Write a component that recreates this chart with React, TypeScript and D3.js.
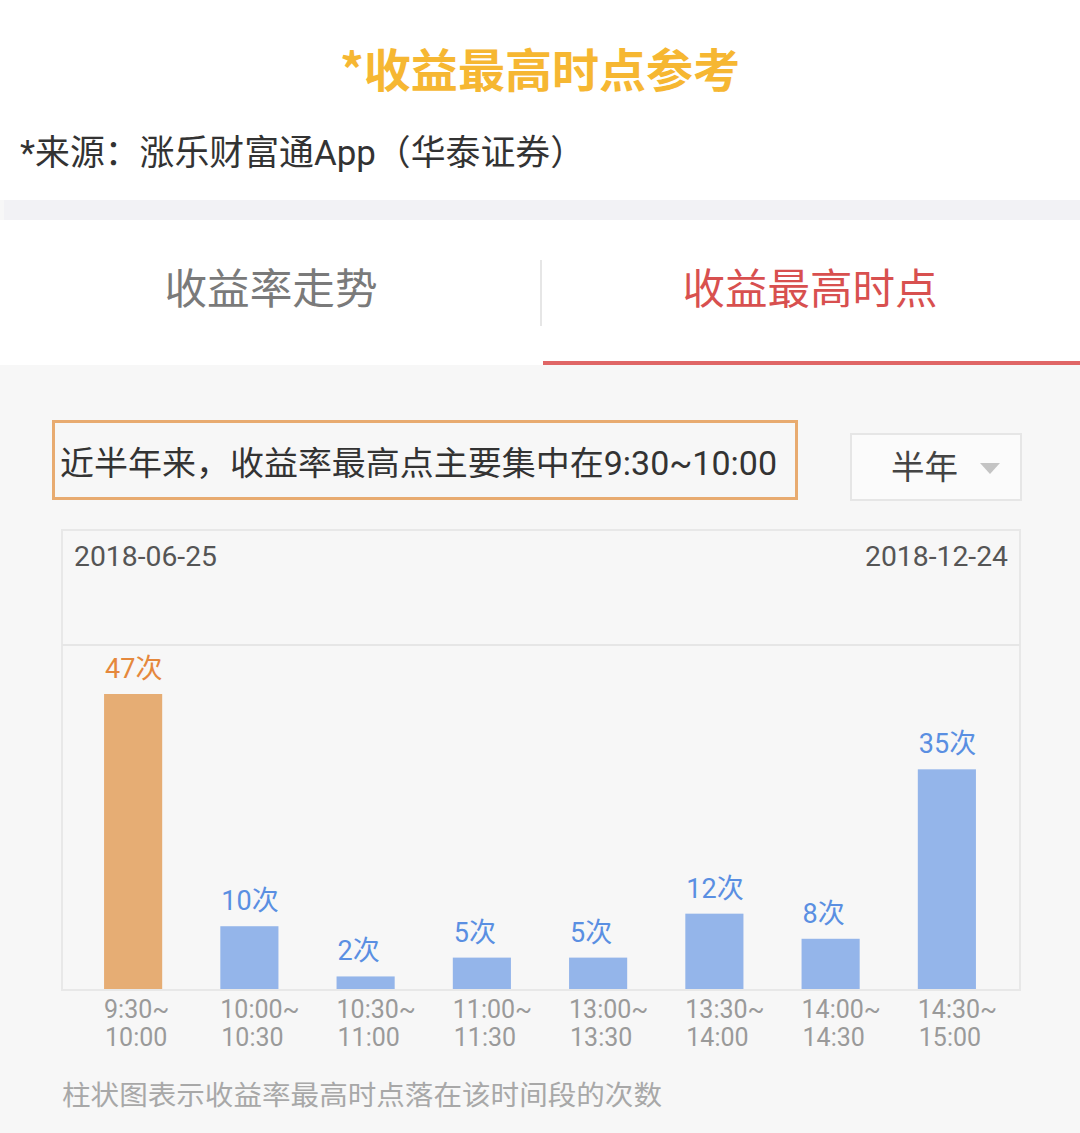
import * as d3 from 'd3';
import { useEffect } from 'react';

// 时间段（两行标签）与次数
const slotStarts = ['9:30~', '10:00~', '10:30~', '11:00~', '13:00~', '13:30~', '14:00~', '14:30~'];
const slotEnds = ['10:00', '10:30', '11:00', '11:30', '13:30', '14:00', '14:30', '15:00'];
const counts = [47, 10, 2, 5, 5, 12, 8, 35];
const highlightSlot = '9:30~';

const titleText = '*收益最高时点参考';
const sourceText = '*来源：涨乐财富通App（华泰证券）';
const tabs = ['收益率走势', '收益最高时点'];
const summaryText = '近半年来，收益率最高点主要集中在9:30~10:00';
const periodText = '半年';
const startDate = '2018-06-25';
const endDate = '2018-12-24';
const footnote = '柱状图表示收益率最高时点落在该时间段的次数';

const FONT = "Roboto, 'Noto Sans CJK SC', sans-serif";
const CJK = "'Noto Sans CJK SC', sans-serif";

export default function App() {
    useEffect(() => {
        document.body.style.margin = '0';
    }, []);

    const width = 1080;
    const height = 1133;

    const x = d3.scaleBand<string>()
        .domain(slotStarts)
        .range([75, 1005])
        .paddingInner(0.5)
        .paddingOuter(0.25);

    const y = d3.scaleLinear()
        .domain([0, 47])
        .range([989, 694]);

    const bars = slotStarts.map((s, i) => ({ start: s, end: slotEnds[i], count: counts[i] }));

    return (
        <svg width={width} height={height} style={{ display: 'block' }} fontFamily={FONT}>
            <rect x={0} y={0} width={width} height={height} fill="#f7f7f7" />
            {/* 顶部白色区域 */}
            <rect x={0} y={0} width={width} height={200} fill="#ffffff" />
            <rect x={4} y={200} width={width - 4} height={20} fill="#f2f2f5" />
            <rect x={0} y={220} width={width} height={145} fill="#ffffff" />

            <text x={540} y={87} textAnchor="middle" fontFamily={CJK} fontSize={46} fontWeight="bold"
                fill="#f6b732" textLength={400} lengthAdjust="spacingAndGlyphs">{titleText}</text>
            <text x={20} y={165} fontSize={35} fill="#333333"
                textLength={565} lengthAdjust="spacingAndGlyphs">{sourceText}</text>

            {/* 选项卡 */}
            <text x={271} y={304} textAnchor="middle" fontFamily={CJK} fontSize={42} fill="#7a7a7a"
                textLength={213} lengthAdjust="spacingAndGlyphs">{tabs[0]}</text>
            <line x1={541} x2={541} y1={260} y2={326} stroke="#e6e6e6" strokeWidth={2} />
            <text x={810} y={304} textAnchor="middle" fontFamily={CJK} fontSize={42} fill="#d8504f"
                textLength={255} lengthAdjust="spacingAndGlyphs">{tabs[1]}</text>
            <rect x={543} y={361} width={width - 543} height={4} fill="#e06666" />

            {/* 摘要框 */}
            <rect x={53.5} y={421.5} width={743} height={77} fill="none" stroke="#e8ab70" strokeWidth={3} />
            <text x={60} y={475} fontSize={33} fill="#333333"
                textLength={717} lengthAdjust="spacingAndGlyphs">{summaryText}</text>

            {/* 下拉框 */}
            <rect x={851} y={434} width={170} height={66} fill="#fbfbfb" stroke="#e6e6e6" strokeWidth={2} />
            <text x={891} y={479} fontFamily={CJK} fontSize={33} fill="#444444"
                textLength={67} lengthAdjust="spacingAndGlyphs">{periodText}</text>
            <path d="M980,463 L1000,463 L990,474 Z" fill="#c4c4c4" />

            {/* 图表框 */}
            <rect x={62} y={530} width={958} height={460} fill="#f7f7f7" stroke="#e8e8e8" strokeWidth={2} />
            <line x1={62} x2={1020} y1={645} y2={645} stroke="#e6e6e6" strokeWidth={2} />
            <text x={74} y={566} fontSize={27} fill="#555555"
                textLength={143} lengthAdjust="spacingAndGlyphs">{startDate}</text>
            <text x={1008} y={566} fontSize={27} fill="#555555" textAnchor="end"
                textLength={143} lengthAdjust="spacingAndGlyphs">{endDate}</text>

            {bars.map(d => {
                const hi = d.start === highlightSlot;
                const bx = x(d.start)!;
                return (
                    <g key={d.start}>
                        <rect x={bx} y={y(d.count)} width={x.bandwidth()} height={y(0) - y(d.count)}
                            fill={hi ? '#e6ad74' : '#94b5ea'} />
                        <text x={bx + 1} y={y(d.count) - 16} fontSize={27}
                            fill={hi ? '#e5883c' : '#5a8fe2'}>{d.count}次</text>
                        <text x={bx} y={1018} fontSize={25} fill="#9a9a9a">{d.start}</text>
                        <text x={bx + 1} y={1046} fontSize={25} fill="#9a9a9a">{d.end}</text>
                    </g>
                );
            })}

            <text x={62} y={1105} fontFamily={CJK} fontSize={27} fill="#a8a8a8"
                textLength={600} lengthAdjust="spacingAndGlyphs">{footnote}</text>
        </svg>
    );
}
